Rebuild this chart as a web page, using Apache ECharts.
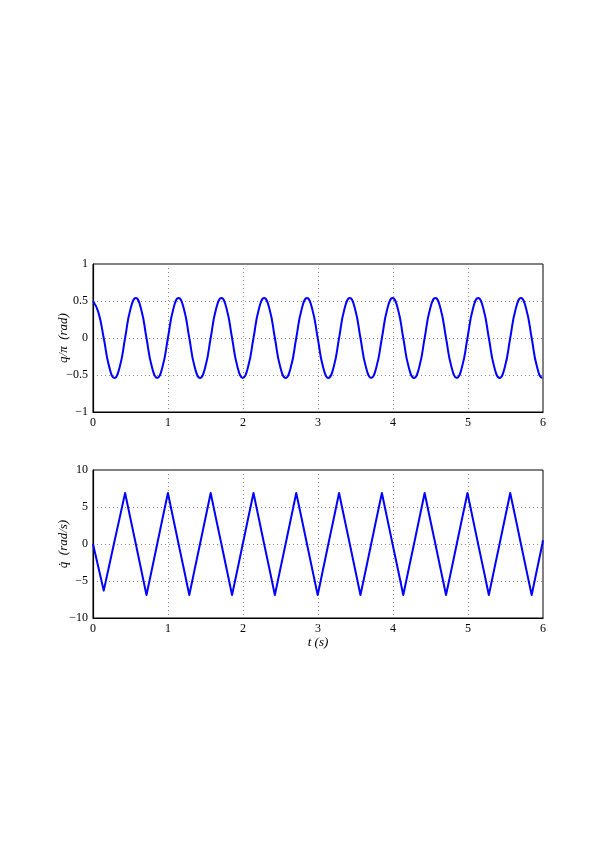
<!DOCTYPE html>
<html>
<head>
<meta charset="utf-8">
<script src="https://cdn.jsdelivr.net/npm/echarts@6/dist/echarts.min.js"></script>
<style>
html,body{margin:0;padding:0;background:#fff;}
#c{width:599px;height:848px;}
</style>
</head>
<body>
<div id="c"></div>
<script>
// time samples (s)
const tTop = [0,0.071,0.143,0.214,0.285,0.357,0.428,0.499,0.571,0.642,0.713,0.785,0.856,0.927,0.999,1.070,1.141,1.213,1.284,1.355,1.427,1.498,1.569,1.640,1.712,1.783,1.854,1.926,1.997,2.068,2.140,2.211,2.282,2.354,2.425,2.496,2.568,2.639,2.710,2.782,2.853,2.924,2.996,3.067,3.138,3.210,3.281,3.352,3.424,3.495,3.566,3.638,3.709,3.780,3.852,3.923,3.994,4.066,4.137,4.208,4.280,4.351,4.422,4.493,4.565,4.636,4.707,4.779,4.850,4.921,4.993,5.064,5.135,5.207,5.278,5.349,5.421,5.492,5.563,5.635,5.706,5.777,5.849,5.920,5.991,6.0];
// q/pi (rad)
const qPi = [0.50,0.35,0.00,-0.38,-0.54,-0.39,0.00,0.39,0.54,0.39,0.00,-0.39,-0.54,-0.39,0.00,0.39,0.54,0.39,0.00,-0.39,-0.54,-0.39,0.00,0.39,0.54,0.39,0.00,-0.39,-0.54,-0.39,0.00,0.39,0.54,0.39,0.00,-0.39,-0.54,-0.39,0.00,0.39,0.54,0.39,0.00,-0.39,-0.54,-0.39,0.00,0.39,0.54,0.39,0.00,-0.39,-0.54,-0.39,0.00,0.39,0.54,0.39,0.00,-0.39,-0.54,-0.39,0.00,0.39,0.54,0.39,0.00,-0.39,-0.54,-0.39,0.00,0.39,0.54,0.39,0.00,-0.39,-0.54,-0.39,0.00,0.39,0.54,0.39,0.00,-0.39,-0.54,-0.54];
// q-dot (rad/s)
const qDot = [0.0,-3.1,-6.3,-3.0,0.3,3.6,6.9,3.45,0.0,-3.45,-6.9,-3.45,0.0,3.45,6.9,3.45,0.0,-3.45,-6.9,-3.45,0.0,3.45,6.9,3.45,0.0,-3.45,-6.9,-3.45,0.0,3.45,6.9,3.45,0.0,-3.45,-6.9,-3.45,0.0,3.45,6.9,3.45,0.0,-3.45,-6.9,-3.45,0.0,3.45,6.9,3.45,0.0,-3.45,-6.9,-3.45,0.0,3.45,6.9,3.45,0.0,-3.45,-6.9,-3.45,0.0,3.45,6.9,3.45,0.0,-3.45,-6.9,-3.45,0.0,3.45,6.9,3.45,0.0,-3.45,-6.9,-3.45,0.0,3.45,6.9,3.45,0.0,-3.45,-6.9,-3.45,0.0,0.5];
const xTicks = [0,1,2,3,4,5,6];
const yTopTicks = [-1,-0.5,0,0.5,1];
const yBotTicks = [-10,-5,0,5,10];

const FONT = 'Liberation Serif';
const fmtNum = v => (v < 0 ? '\u2212' + Math.abs(v) : String(v));

const chart = echarts.init(document.getElementById('c'), null, {renderer:'canvas'});

function xAxis(gi, withName){
  return {
    type:'value', gridIndex:gi, min:xTicks[0], max:xTicks[xTicks.length-1], interval:1,
    axisLine:{show:true, onZero:false, lineStyle:{color:'#000', width:1.2}},
    axisTick:{show:false},
    axisLabel:{fontFamily:FONT, fontSize:12, color:'#000', margin:5, formatter:fmtNum},
    splitLine:{show:true, lineStyle:{color:'#888', type:[1,3], width:1}},
    name: withName ? 't (s)' : '',
    nameLocation:'middle', nameGap:18, nameMoveOverlap:false,
    nameTextStyle:{fontFamily:FONT, fontStyle:'italic', fontSize:13, color:'#000'}
  };
}
function yAxis(gi, ticks, interval, name){
  return {
    type:'value', gridIndex:gi, min:ticks[0], max:ticks[ticks.length-1], interval:interval,
    axisLine:{show:true, onZero:false, lineStyle:{color:'#000', width:1.2}},
    axisTick:{show:false},
    axisLabel:{fontFamily:FONT, fontSize:12, color:'#000', margin:5, formatter:fmtNum},
    splitLine:{show:true, lineStyle:{color:'#888', type:[1,3], width:1}},
    name:name, nameLocation:'middle', nameGap:23, nameRotate:90, nameMoveOverlap:false,
    nameTextStyle:{fontFamily:FONT, fontStyle:'italic', fontSize:13, color:'#000'}
  };
}

chart.setOption({
  backgroundColor:'#fff',
  animation:false,
  grid:[
    {left:93, top:264, width:450, height:148, show:true, borderColor:'#000', borderWidth:1, backgroundColor:'transparent'},
    {left:93, top:470, width:450, height:148, show:true, borderColor:'#000', borderWidth:1, backgroundColor:'transparent'}
  ],
  xAxis:[xAxis(0,false), xAxis(1,true)],
  yAxis:[yAxis(0,yTopTicks,0.5,'q/\u03C0  (rad)'), yAxis(1,yBotTicks,5,'q\u0307  (rad/s)')],
  series:[
    {type:'line', xAxisIndex:0, yAxisIndex:0, showSymbol:false, smooth:0.5,
     lineStyle:{color:'#0000ff', width:2}, data:tTop.map((t,i)=>[t,qPi[i]])},
    {type:'line', xAxisIndex:1, yAxisIndex:1, showSymbol:false, smooth:false,
     lineStyle:{color:'#0000ff', width:2, join:'round'}, data:tTop.map((t,i)=>[t,qDot[i]])}
  ]
});
</script>
</body>
</html>
